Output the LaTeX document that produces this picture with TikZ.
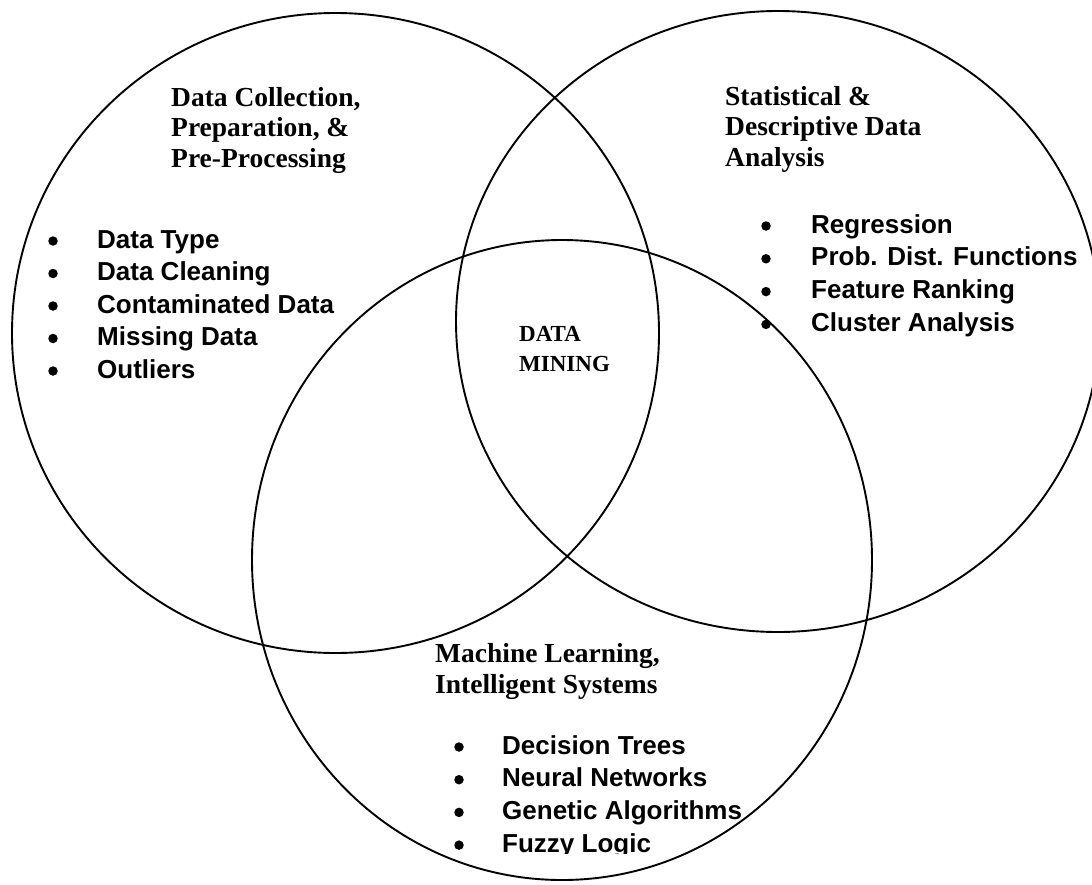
\documentclass[tikz,border=0pt]{standalone}
\usepackage{fontspec}
\setmainfont{Liberation Serif}
\newfontfamily\arialfont{Liberation Sans}
\begin{document}
\begin{tikzpicture}[x=1pt,y=-1pt,
  ring/.style={line width=1.9pt},
  heading/.style={anchor=base west, inner sep=0pt,
    font=\bfseries\fontsize{27.5}{30}\selectfont},
  core/.style={anchor=base west, inner sep=0pt,
    font=\bfseries\fontsize{23}{28}\selectfont},
  item/.style={anchor=base west, inner sep=0pt,
    font=\arialfont\bfseries\fontsize{26}{30}\selectfont},
  dot/.style={circle, fill=black, inner sep=0pt, minimum size=9.5pt}]
\clip (0,0) rectangle (1092,884);

% the three overlapping fields
\draw[ring] (335.5,333) ellipse [x radius=323.5pt, y radius=320pt];
\draw[ring] (778,321.5) ellipse [x radius=322pt, y radius=310.5pt];
\draw[ring] (562,560) ellipse [x radius=310pt, y radius=320pt];

% field headings
\node[heading] (prep-h1) at (171,106)   {Data Collection,};
\node[heading] (prep-h2) at (171,136.5) {Preparation, \&};
\node[heading] (prep-h3) at (171,167)   {Pre-Processing};

\node[heading] (stat-h1) at (725,105)   {Statistical \&};
\node[heading] (stat-h2) at (725,135.5) {Descriptive Data};
\node[heading] (stat-h3) at (725,166)   {Analysis};

\node[heading] (ml-h1) at (435,662)   {Machine Learning,};
\node[heading] (ml-h2) at (435,693.5) {Intelligent Systems};

% common core
\node[core] (core-1) at (519,341.5) {DATA};
\node[core] (core-2) at (519,371.5) {MINING};

% bullet lists
\foreach \txt [count=\i from 0] in {Data Type,Data Cleaning,Contaminated Data,Missing Data,Outliers}{
  \node[item] (prep-\i) at (97,248+32.5*\i) {\txt};
  \node[dot] (prep-dot-\i) at (53,241+32.5*\i) {};
}
\foreach \txt [count=\i from 0] in {Regression,Prob. Dist. Functions,Feature Ranking,Cluster Analysis}{
  \node[item] (stat-\i) at (811,233+32.8*\i) {\txt};
  \node[dot] (stat-dot-\i) at (766,226+32.8*\i) {};
}
\begin{scope}
  \clip (0,0) rectangle (1092,853);
  \foreach \txt [count=\i from 0] in {Decision Trees,Neural Networks,Genetic Algorithms,Fuzzy Logic}{
    \node[item] (ml-\i) at (502,754+32.7*\i) {\txt};
    \node[dot] (ml-dot-\i) at (459,747+32.7*\i) {};
  }
\end{scope}
\end{tikzpicture}
\end{document}
